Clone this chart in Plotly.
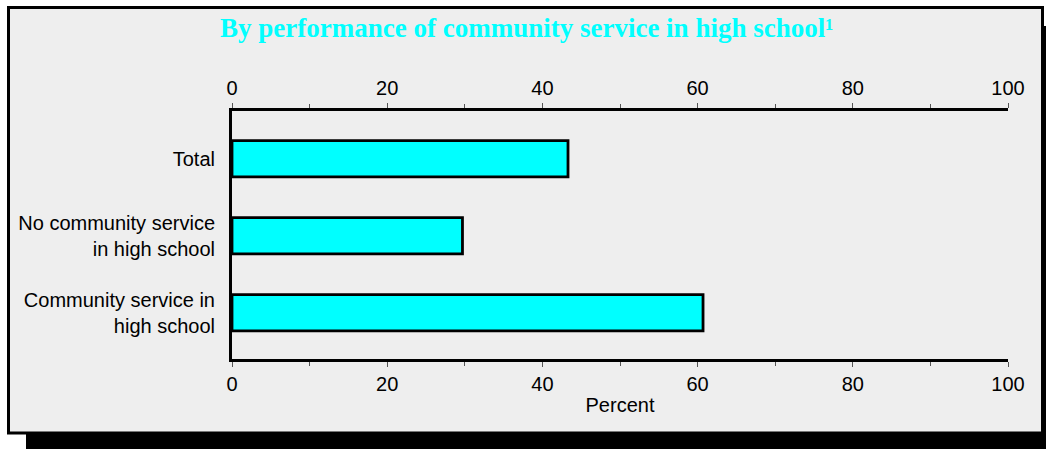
import plotly.graph_objects as go

categories = ["Total", "No community service<br>in high school", "Community service in<br>high school"]
values = [43.3, 29.7, 60.7]
tick_values = [0, 20, 40, 60, 80, 100]
tick_labels = ["0", "20", "40", "60", "80", "100"]
title_text = "By performance of community service in high school\u00b9"
x_title = "Percent"

W, H = 1046, 449
L, T = 232, 111
R = W - 1008
B = H - 359
PW, PH = W - L - R, H - T - B

def px(x):
    return (x - L) / PW

def py(y):
    return (T + PH - y) / PH

FONT = "Liberation Sans, Arial"

fig = go.Figure()
fig.add_trace(go.Bar(
    y=categories, x=values, orientation="h",
    marker=dict(color="#00FFFF", line=dict(color="black", width=2.8)),
    width=0.47, showlegend=False, hoverinfo="x+y",
))
fig.add_trace(go.Bar(
    y=categories, x=values, orientation="h", xaxis="x2",
    marker=dict(color="rgba(0,0,0,0)"), width=0.47,
    showlegend=False, hoverinfo="skip", opacity=0,
))

axis_common = dict(
    range=[0, 100], tickvals=tick_values, ticktext=tick_labels,
    ticks="outside", ticklen=5, tickwidth=1, tickcolor="#555555",
    minor=dict(dtick=10, ticks="outside", ticklen=4, tickwidth=1, tickcolor="#555555", showgrid=False),
    showline=True, linecolor="black", linewidth=3, showgrid=False, zeroline=False,
    tickfont=dict(family=FONT, size=20, color="black"),
    fixedrange=True,
)

fig.update_layout(
    width=W, height=H,
    margin=dict(l=L, r=R, t=T, b=B, autoexpand=False),
    paper_bgcolor="white", plot_bgcolor="rgba(0,0,0,0)",
    xaxis=dict(side="bottom", **axis_common,
               title=dict(text=x_title, standoff=4,
                          font=dict(family=FONT, size=20, color="black"))),
    xaxis2=dict(side="top", overlaying="x", **axis_common),
    yaxis=dict(
        categoryorder="array", categoryarray=categories, autorange=False,
        range=[2.6, -0.62], showline=True, linecolor="black", linewidth=3,
        ticks="", showgrid=False, zeroline=False, ticklabelstandoff=10,
        tickfont=dict(family=FONT, size=20, color="black"),
        fixedrange=True,
    ),
    shapes=[
        dict(type="rect", xref="paper", yref="paper", layer="below",
             x0=px(26), x1=px(1050), y0=py(453), y1=py(26),
             fillcolor="black", line=dict(width=0)),
        dict(type="rect", xref="paper", yref="paper", layer="below",
             x0=px(8.5), x1=px(1042.5), y0=py(433), y1=py(7.5),
             fillcolor="#EEEEEE", line=dict(color="black", width=3)),
    ],
    annotations=[
        dict(text="<b>" + title_text + "</b>", xref="paper", yref="paper",
             x=px(526), y=py(28), xanchor="center", yanchor="middle", showarrow=False,
             font=dict(family="Liberation Serif, Times New Roman", size=27, color="#00FFFF")),
    ],
)

fig.write_html(
    "out.html",
    config={"displayModeBar": False},
    post_script="document.body.style.margin='0';document.body.style.overflow='hidden';",
)
